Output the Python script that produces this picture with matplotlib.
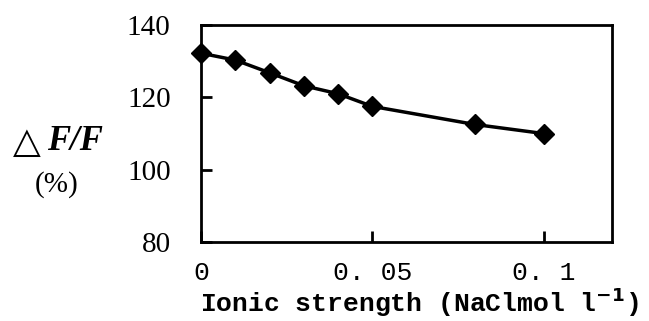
import matplotlib
matplotlib.use('Agg')
import matplotlib.pyplot as plt

# data
ionic_strength = [0, 0.01, 0.02, 0.03, 0.04, 0.05, 0.08, 0.1]
delta_f = [132.2, 130.3, 126.8, 123.2, 121.0, 117.5, 112.5, 110.0]

x_ticks = [0, 0.05, 0.1]
x_tick_labels = ['0', '0. 05', '0. 1']
y_ticks = [80, 100, 120, 140]

fig = plt.figure(figsize=(6.49, 3.21), dpi=100)
ax = fig.add_axes([0.31, 0.246, 0.633, 0.676])

ax.plot(ionic_strength, delta_f, color='black', linewidth=2.5,
        marker='D', markersize=10, markerfacecolor='black',
        markeredgecolor='black', clip_on=False, zorder=3)

ax.set_xlim(0, 0.12)
ax.set_ylim(80, 140)
ax.set_xticks(x_ticks)
ax.set_xticklabels(x_tick_labels, family='Liberation Mono', fontsize=19)
ax.set_yticks(y_ticks)
ax.set_yticklabels([str(v) for v in y_ticks], family='Liberation Serif', fontsize=21)

ax.tick_params(axis='both', direction='in', length=8, width=2)
ax.tick_params(axis='x', pad=14)
ax.tick_params(axis='y', pad=22)
for spine in ax.spines.values():
    spine.set_linewidth(2)

ax.set_xlabel('Ionic strength (NaClmol l$^{\\mathbf{-1}}$)', family='Liberation Mono',
              fontsize=19, fontweight='bold')
ax.xaxis.set_label_coords(0.53, -0.2)

# y label drawn as two lines of text to the left of the axis
fig.text(0.02, 0.555, '\u25b3', ha='left', va='center',
         fontsize=26, family='DejaVu Sans')
fig.text(0.072, 0.56, 'F/F', ha='left', va='center', fontsize=25,
         family='Liberation Serif', fontweight='bold', style='italic')
fig.text(0.088, 0.425, '(%)', ha='center', va='center', fontsize=21,
         family='Liberation Serif')

fig.savefig('out.png', dpi=100)
